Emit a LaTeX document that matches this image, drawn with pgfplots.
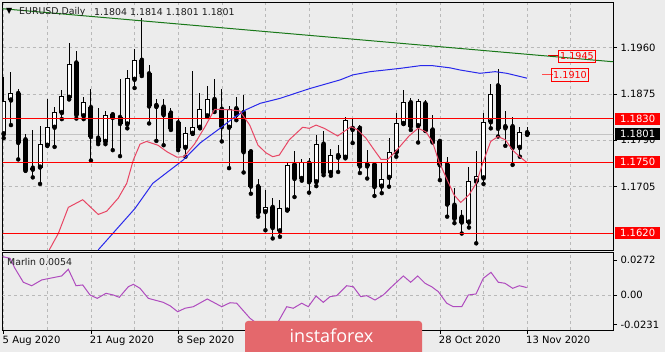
\documentclass[border=0pt]{standalone}
\usepackage{fontspec}
\setmainfont{DejaVu Sans}
\newfontfamily\bannerfont{Open Sans}
\usepackage{pgfplots}
\usepackage{pgfplotstable}
\pgfplotsset{compat=1.18}

\definecolor{bg}{RGB}{236,236,236}
\definecolor{gridc}{RGB}{185,185,185}
\definecolor{maRed}{RGB}{232,70,100}
\definecolor{maBlue}{RGB}{40,40,235}
\definecolor{trendG}{RGB}{25,120,25}
\definecolor{lvl}{RGB}{255,0,0}
\definecolor{marlinc}{RGB}{175,75,190}
\definecolor{bannerc}{RGB}{228,104,108}
\definecolor{pricegray}{RGB}{195,195,195}
\definecolor{titlec}{RGB}{30,30,30}

\pgfplotstableread{
i O H L C
0 1.1802 1.1907 1.1794 1.1861
1 1.1864 1.1916 1.1818 1.1876
2 1.1876 1.1884 1.1755 1.1786
3 1.1791 1.1802 1.1734 1.1736
4 1.1739 1.1809 1.1722 1.1737
5 1.1741 1.1816 1.1710 1.1783
6 1.1781 1.1865 1.1780 1.1814
7 1.1814 1.1851 1.1778 1.1841
8 1.1841 1.1882 1.1829 1.1870
9 1.1869 1.1968 1.1865 1.1930
10 1.1932 1.1954 1.1830 1.1837
11 1.1835 1.1869 1.1829 1.1860
12 1.1850 1.1884 1.1753 1.1797
13 1.1794 1.1850 1.1783 1.1788
14 1.1788 1.1844 1.1783 1.1835
15 1.1837 1.1840 1.1772 1.1832
16 1.1832 1.1903 1.1761 1.1821
17 1.1820 1.1919 1.1812 1.1904
18 1.1902 1.1958 1.1886 1.1937
19 1.1937 1.2014 1.1908 1.1912
20 1.1912 1.1928 1.1821 1.1853
21 1.1854 1.1865 1.1789 1.1852
22 1.1851 1.1865 1.1781 1.1837
23 1.1840 1.1849 1.1809 1.1812
24 1.1822 1.1830 1.1772 1.1777
25 1.1777 1.1815 1.1760 1.1802
26 1.1803 1.1917 1.1802 1.1814
27 1.1814 1.1876 1.1812 1.1847
28 1.1835 1.1890 1.1833 1.1865
29 1.1865 1.1903 1.1842 1.1847
30 1.1847 1.1884 1.1788 1.1815
31 1.1814 1.1853 1.1739 1.1846
32 1.1848 1.1870 1.1827 1.1837
33 1.1841 1.1873 1.1731 1.1769
34 1.1769 1.1772 1.1692 1.1706
35 1.1705 1.1719 1.1650 1.1657
36 1.1659 1.1699 1.1625 1.1666
37 1.1667 1.1684 1.1610 1.1630
38 1.1624 1.1681 1.1613 1.1665
39 1.1662 1.1748 1.1662 1.1743
40 1.1745 1.1771 1.1686 1.1720
41 1.1720 1.1756 1.1716 1.1749
42 1.1748 1.1757 1.1694 1.1714
43 1.1714 1.1800 1.1706 1.1783
44 1.1783 1.1808 1.1726 1.1731
45 1.1731 1.1774 1.1725 1.1763
46 1.1762 1.1781 1.1732 1.1759
47 1.1759 1.1832 1.1757 1.1826
48 1.1812 1.1829 1.1785 1.1810
49 1.1812 1.1818 1.1730 1.1743
50 1.1746 1.1772 1.1720 1.1743
51 1.1745 1.1751 1.1688 1.1705
52 1.1706 1.1748 1.1693 1.1719
53 1.1722 1.1794 1.1705 1.1768
54 1.1768 1.1841 1.1760 1.1821
55 1.1821 1.1882 1.1820 1.1859
56 1.1859 1.1867 1.1809 1.1816
57 1.1817 1.1865 1.1786 1.1861
58 1.1857 1.1864 1.1808 1.1808
59 1.1809 1.1837 1.1786 1.1788
60 1.1788 1.1788 1.1717 1.1745
61 1.1746 1.1760 1.1650 1.1673
62 1.1671 1.1703 1.1638 1.1647
63 1.1649 1.1662 1.1619 1.1640
64 1.1640 1.1741 1.1630 1.1715
65 1.1715 1.1770 1.1601 1.1723
66 1.1721 1.1840 1.1710 1.1823
67 1.1824 1.1893 1.1812 1.1875
68 1.1890 1.1920 1.1797 1.1812
69 1.1815 1.1844 1.1780 1.1813
70 1.1815 1.1833 1.1745 1.1777
71 1.1777 1.1815 1.1760 1.1804
72 1.1804 1.1814 1.1801 1.1801
}\candles

\pgfplotstableread{
x y
6.27 1.1589
7.51 1.1619
8.89 1.1667
10.87 1.1681
13.01 1.1654
14.17 1.1660
15.76 1.1684
16.92 1.1711
17.83 1.1754
18.75 1.1783
19.64 1.1788
21.22 1.1781
22.46 1.1769
23.84 1.1759
24.80 1.1760
26.24 1.1783
27.69 1.1815
29.02 1.1847
31.09 1.1846
32.46 1.1844
33.84 1.1818
34.98 1.1781
36.08 1.1767
37.00 1.1760
37.91 1.1763
39.28 1.1791
41.13 1.1814
42.04 1.1812
42.96 1.1818
44.10 1.1812
45.94 1.1798
47.77 1.1815
48.69 1.1809
49.83 1.1794
50.98 1.1772
51.90 1.1755
52.82 1.1755
53.73 1.1767
54.65 1.1781
55.75 1.1798
56.99 1.1812
58.05 1.1806
58.95 1.1788
59.87 1.1751
61.02 1.1717
61.94 1.1690
62.86 1.1676
64.00 1.1690
65.00 1.1711
65.97 1.1751
66.99 1.1788
67.99 1.1797
69.00 1.1791
70.00 1.1772
70.97 1.1760
72.00 1.1749
}\redma

\pgfplotstableread{
x y
13.0 1.1589
18.06 1.1665
20.5 1.1711
24.7 1.1754
27.0 1.1785
29.75 1.1812
31.5 1.1830
33.3 1.1846
35.3 1.1858
38.0 1.1867
42.1 1.1885
46.3 1.1901
48.0 1.1910
50.4 1.1916
54.5 1.1922
57.3 1.1927
59.0 1.1927
61.4 1.1923
62.8 1.1919
65.5 1.1913
67.6 1.1916
69.2 1.1913
72.0 1.1904
}\bluema

\pgfplotstableread{
x y
-0.14 0.0298
0.87 0.0285
1.55 0.0207
2.70 0.0099
3.85 0.0072
5.23 0.0117
6.37 0.0130
7.98 0.0148
8.89 0.0200
9.95 0.0072
10.87 0.0078
11.87 0.0000
12.87 -0.0026
14.07 0.0013
15.08 0.0000
15.90 -0.0018
17.14 0.0064
17.83 0.0083
18.75 0.0052
19.89 -0.0026
21.95 -0.0057
22.87 -0.0083
23.93 -0.0130
24.94 -0.0103
26.08 -0.0091
28.00 -0.0031
29.99 -0.0091
31.13 -0.0060
32.05 -0.0064
33.88 -0.0181
35.67 -0.0256
37.77 -0.0207
38.93 -0.0091
39.83 -0.0103
40.99 -0.0064
41.90 -0.0091
42.96 -0.0008
43.96 -0.0057
44.88 -0.0013
45.80 -0.0005
47.18 0.0072
48.09 0.0064
49.11 -0.0013
49.93 -0.0005
51.07 -0.0039
52.21 0.0000
53.37 0.0064
54.97 0.0148
55.98 0.0099
56.95 0.0148
57.95 0.0091
58.87 0.0064
59.78 0.0026
60.94 -0.0064
61.84 -0.0091
63.00 -0.0091
63.91 0.0000
64.97 0.0008
65.97 0.0130
67.03 0.0176
68.03 0.0099
68.95 0.0091
70.01 0.0052
70.92 0.0072
71.94 0.0058
}\marlin

\pgfplotsset{
  chartax/.style={
    scale only axis, anchor=south west,
    xmin=-0.1375, xmax=83.81,
    axis line style={black, line width=0.8pt},
    xtick={0,12,...,72}, minor xtick={6,18,...,78},
    xmajorgrids, xminorgrids,
    grid style={gridc, line width=0.6pt, dash pattern=on 3pt off 3pt},
    minor grid style={gridc, line width=0.6pt, dash pattern=on 3pt off 3pt},
    tick align=outside, major tick length=4pt, minor tick length=0pt,
    ytick pos=right, yticklabel pos=right,
    scaled y ticks=false, scaled x ticks=false,
    tick style={black, line width=0.6pt},
    clip mode=individual,
    every tick label/.append style={font=\fontsize{10}{12}\selectfont, text=black},
    /pgf/number format/assume math mode=true,
  },
  cbar/.style={only marks, mark=none, forget plot,
    error bars/.cd, y dir=plus, y explicit, error mark=none},
}

\begin{document}
\begin{tikzpicture}[x=1pt,y=1pt]
\useasboundingbox (0,0) rectangle (665,352);
\fill[bg] (0,0) rectangle (665,352);

% ---------- main price panel ----------
\begin{axis}[chartax,
  at={(2.7pt,101.3pt)}, width=610.3pt, height=248pt,
  ymin=1.158749, ymax=1.204258,
  xticklabels={}, xtick style={draw=none},
  ytick={1.1705,1.1790,1.1875,1.1960},
  yticklabels={1.1705,1.1790,1.1875,1.1960},
  ymajorgrids,
]
\addplot[pricegray, line width=0.8pt, forget plot] coordinates {(-1,1.1801) (90,1.1801)};
% wicks
\addplot[cbar, error bar style={black, line width=1pt}]
  table[x=i, y=L, y error expr={\thisrow{H}-\thisrow{L}}] {\candles};
% bodies (outline / filled)
\addplot[cbar, error bar style={black, line width=5pt}]
  table[x=i, y expr={min(\thisrow{O},\thisrow{C})-0.00009}, y error expr={abs(\thisrow{C}-\thisrow{O})+0.00018}] {\candles};
% white interior of rising candles
\addplot[cbar, error bar style={white, line width=3pt}]
  table[x=i, y expr={\thisrow{O}+0.00009}, y error expr={max(\thisrow{C}-\thisrow{O}-0.00018,0)}] {\candles};
% moving averages
\addplot[maBlue, line width=1pt] table[x=x, y=y] {\bluema};
\addplot[maRed, line width=1pt] table[x=x, y=y] {\redma};
% trend line
\addplot[trendG, line width=1pt] coordinates {(-0.6,1.2032) (84,1.1934)};
% levels
\addplot[lvl, line width=0.9pt] coordinates {(-1,1.1830) (90,1.1830)};
\addplot[lvl, line width=0.9pt] coordinates {(-1,1.1750) (90,1.1750)};
\addplot[lvl, line width=0.9pt] coordinates {(-1,1.1620) (90,1.1620)};
% price marks
\addplot[lvl!80!black, line width=1pt] coordinates {(74.9,1.1945) (76.3,1.1945)};
\addplot[lvl!70, line width=1pt] coordinates {(74.1,1.1910) (75.5,1.1910)};
\node[draw=lvl, text=lvl, line width=0.7pt, inner xsep=1.5pt, inner ysep=0pt, minimum height=12pt,
  font=\fontsize{9.6}{11}\selectfont] at (axis cs:78.85,1.19442) {1.1945};
\node[draw=lvl, text=lvl, line width=0.7pt, inner xsep=1.5pt, inner ysep=0pt, minimum height=13pt,
  font=\fontsize{9.6}{11}\selectfont] at (axis cs:77.9,1.1910) {1.1910};
\coordinate (c1830) at (axis cs:83.81,1.1830);
\coordinate (c1801) at (axis cs:83.81,1.1801);
\coordinate (c1750) at (axis cs:83.81,1.1750);
\coordinate (c1620) at (axis cs:83.81,1.1620);
\end{axis}

% ---------- Marlin panel ----------
\begin{axis}[chartax,
  at={(2.7pt,22pt)}, width=610.3pt, height=77.7pt,
  ymin=-0.027195, ymax=0.033178,
  xtick pos=bottom,
  xticklabels={5 Aug 2020,21 Aug 2020,8 Sep 2020,{},{},28 Oct 2020,13 Nov 2020},
  xticklabel style={anchor=north west, xshift=-4.5pt, yshift=1.5pt},
  ytick={-0.0231,0,0.0272},
  yticklabels={-0.0231,0.00,0.0272},
]
\addplot[gridc, line width=0.6pt, dash pattern=on 3pt off 3pt, forget plot] coordinates {(-1,0) (90,0)};
\addplot[marlinc, line width=1pt] table[x=x, y=y] {\marlin};
\end{axis}

% right-side price boxes
\foreach \c/\t/\f in {c1830/1.1830/lvl, c1750/1.1750/lvl, c1620/1.1620/lvl, c1801/1.1801/black}{
  \node[fill=\f, text=white, anchor=west, inner xsep=5pt, inner ysep=0pt, minimum height=12pt,
    font=\fontsize{10}{12}\selectfont] at ([xshift=2pt]\c) {\t};
}

% titles
\node[anchor=west, inner sep=0pt, text=black, font=\fontsize{8}{10}\selectfont] at (6,340.5) {▼};
\node[anchor=west, inner sep=0pt, text=titlec, font=\fontsize{9.4}{11}\selectfont] at (19,340) {EURUSD,Daily};
\node[anchor=west, inner sep=0pt, text=titlec, font=\fontsize{9.4}{11}\selectfont] at (94,340) {1.1804 1.1814 1.1801 1.1801};
\node[anchor=west, inner sep=0pt, text=titlec, font=\fontsize{9.4}{11}\selectfont] at (7,90.3) {Marlin 0.0054};

% banner
\fill[bannerc, rounded corners=3pt] (245,-4) rectangle (422,31);
\node[text=white, font=\bannerfont\fontsize{18}{20}\selectfont] at (331.5,16) {instaforex};
\end{tikzpicture}
\end{document}
